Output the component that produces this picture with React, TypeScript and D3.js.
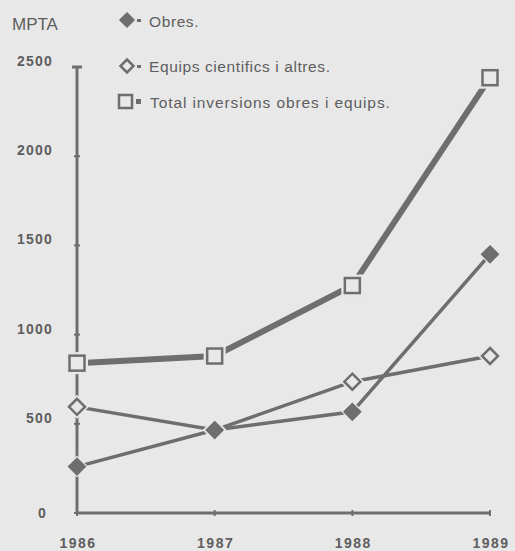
import React from "react";
import * as d3 from "d3";

const years = ["1986", "1987", "1988", "1989"];
const obres = [260, 465, 567, 1450];
const equips = [595, 465, 736, 880];
const total = [840, 880, 1275, 2440];
const yTicks = [0, 500, 1000, 1500, 2000, 2500];
const unitLabel = "MPTA";
const legendLabels = ["Obres.", "Equips cientifics i altres.", "Total inversions obres i equips."];

const W = 515;
const H = 551;
const BG = "#e8e8e8";
const INK = "#6e6e6e";
const TXT = "#5e5e5e";

export default function App() {
  const x = d3.scalePoint<string>().domain(years).range([77, 490]);
  const y = d3.scaleLinear().domain([0, 2500]).range([513, 67]);
  const line = d3
    .line<number>()
    .x((_, i) => x(years[i]) as number)
    .y((d) => y(d));

  const diamond = (cx: number, cy: number, r: number) =>
    `M${cx},${cy - r}L${cx + r},${cy}L${cx},${cy + r}L${cx - r},${cy}Z`;

  const font = "'Liberation Sans', Arial, Helvetica, sans-serif";

  return (
    <div style={{ position: "fixed", left: 0, top: 0 }}>
      <svg width={W} height={H} style={{ display: "block" }}>
        <rect x={0} y={0} width={W} height={H} fill={BG} />

        {/* Y axis */}
        <line x1={x(years[0])} x2={x(years[0])} y1={y(0)} y2={y(2500)} stroke={INK} strokeWidth={3} />
        {yTicks.map((t) => (
          <g key={t}>
            <line
              x1={(x(years[0]) as number) - (t === 2500 ? 5 : 3)}
              x2={(x(years[0]) as number) + (t === 2500 ? 5 : 3)}
              y1={y(t)}
              y2={y(t)}
              stroke={INK}
              strokeWidth={t === 2500 ? 3 : 2}
            />
            <text
              x={t === 0 ? 47 : 53}
              y={y(t) + (t === 0 ? 5 : -1)}
              textAnchor="end"
              fontFamily={font}
              fontSize={14}
              letterSpacing={1.2}
              fill={TXT}
              fontWeight="bold"
            >
              {t}
            </text>
          </g>
        ))}

        {/* X axis */}
        <line x1={x(years[0])} x2={x(years[3])} y1={y(0)} y2={y(0)} stroke={INK} strokeWidth={3} />
        {years.map((yr) => (
          <g key={yr}>
            <line x1={x(yr)} x2={x(yr)} y1={y(0) - 3} y2={y(0) + 3} stroke={INK} strokeWidth={2} />
            <text
              x={(x(yr) as number) + 1}
              y={548}
              textAnchor="middle"
              fontFamily={font}
              fontSize={14}
              letterSpacing={1.5}
              fill={TXT}
              fontWeight="bold"
            >
              {yr}
            </text>
          </g>
        ))}

        {/* Lines */}
        <path d={line(total) || ""} fill="none" stroke={INK} strokeWidth={6} />
        <path d={line(equips) || ""} fill="none" stroke={INK} strokeWidth={3.5} />
        <path d={line(obres) || ""} fill="none" stroke={INK} strokeWidth={3.5} />

        {/* Markers */}
        {total.map((v, i) => {
          const cx = x(years[i]) as number;
          const cy = y(v);
          return (
            <g key={"t" + i}>
              <rect x={cx - 11} y={cy - 11} width={22} height={22} fill={BG} />
              <rect x={cx - 7.5} y={cy - 7.5} width={15} height={15} fill={BG} stroke={INK} strokeWidth={2.5} />
            </g>
          );
        })}
        {equips.map((v, i) => {
          const cx = x(years[i]) as number;
          const cy = y(v);
          return (
            <g key={"e" + i}>
              <path d={diamond(cx, cy, 12)} fill={BG} />
              <path d={diamond(cx, cy, 8)} fill={BG} stroke={INK} strokeWidth={2.5} />
            </g>
          );
        })}
        {obres.map((v, i) => {
          const cx = x(years[i]) as number;
          const cy = y(v);
          return (
            <g key={"o" + i}>
              <path d={diamond(cx, cy, 11)} fill={BG} />
              <path d={diamond(cx, cy, 8)} fill={INK} stroke={INK} strokeWidth={2} />
            </g>
          );
        })}

        {/* Unit label */}
        <text x={12} y={30} fontFamily={font} fontSize={17} fill={TXT}>
          {unitLabel}
        </text>

        {/* Legend */}
        <path d={diamond(127, 20, 7)} fill={INK} stroke={INK} strokeWidth={1.5} />
        <rect x={137} y={19} width={4} height={3} fill={INK} />
        <text x={149} y={27} fontFamily={font} fontSize={15.5} letterSpacing={0.6} fill={TXT}>
          {legendLabels[0]}
        </text>

        <path d={diamond(127, 66, 6.5)} fill={BG} stroke={INK} strokeWidth={2.5} />
        <rect x={137} y={65} width={4} height={3} fill={INK} />
        <text x={149} y={72} fontFamily={font} fontSize={15.5} letterSpacing={0.6} fill={TXT}>
          {legendLabels[1]}
        </text>

        <rect x={119} y={95} width={13} height={13} fill={BG} stroke={INK} strokeWidth={2.5} />
        <rect x={136} y={99} width={5} height={5} fill={INK} />
        <text x={150} y={108} fontFamily={font} fontSize={15.5} letterSpacing={0.9} fill={TXT}>
          {legendLabels[2]}
        </text>
      </svg>
    </div>
  );
}
